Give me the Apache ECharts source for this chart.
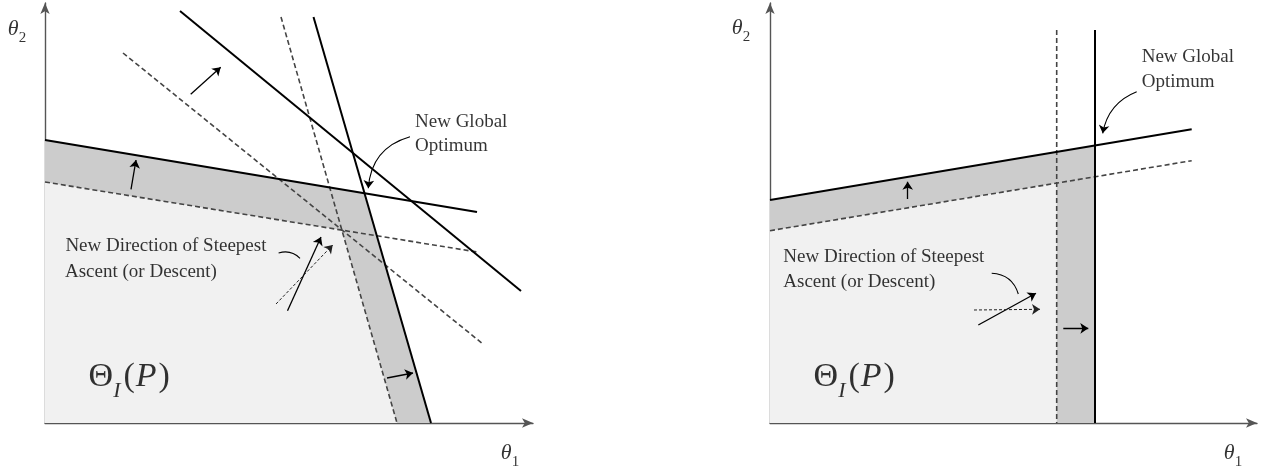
<!DOCTYPE html>
<html lang="en">
<head>
    <meta charset="UTF-8">
    <title>feasible region shift</title>
    <script src="https://cdn.jsdelivr.net/npm/echarts@6/dist/echarts.min.js"></script>
    <style>
        html, body { margin: 0; padding: 0; background: #fff; }
        #chart { width: 1268px; height: 467px; }
    </style>
</head>
<body>
<div id="chart"></div>
<script>
    // ---- left panel (units: theta1 0..488, theta2 0..420) ----
    var leftSolidShallow = [[0, 283], [432, 211]];
    var leftDashShallow = [[0, 241], [432, 171]];
    var leftSolidSteep = [[268.5, 406], [386, 0]];
    var leftDashSteep = [[236, 406], [352, 0]];
    var leftSolidLong = [[135, 412], [476, 132]];
    var leftDashLong = [[78, 370], [438, 79]];
    var leftDarkRegion = [[0, 283], [319.5, 229.7], [386, 0]];
    var leftLightRegion = [[0, 241], [296.9, 192.9], [352, 0]];
    var leftArrows = [
        [[145.7, 328.7], [175.7, 355.7]],
        [[86, 233.7], [91, 263]],
        [[342, 45], [368, 50]],
        [[242.5, 112.3], [276, 186]]
    ];
    var leftDashArrow = [[231, 119], [287.7, 178]];
    var leftOptLeader = [[365, 286.3], [323.3, 234.7]];
    var leftDirLeader = [[233.6, 170], [255, 164.7]];
    var leftTexts = [
        ['New Global', 370, 300.5],
        ['Optimum', 370, 276.5],
        ['New Direction of Steepest', 20.4, 177],
        ['Ascent (or Descent)', 20, 151.3]
    ];
    var leftTheta1 = [465, -33];
    var leftTheta2 = [-28, 391];
    var leftRegionName = [43.6, 42];

    // ---- right panel ----
    var rightSolidRise = [[0, 223], [421.7, 293.7]];
    var rightDashRise = [[0, 192.3], [421.7, 262.3]];
    var rightSolidVert = [[325, 393], [325, 0]];
    var rightDashVert = [[286.7, 393], [286.7, 0]];
    var rightDarkRegion = [[0, 223], [325, 277.5], [325, 0]];
    var rightLightRegion = [[0, 192.3], [286.7, 239.9], [286.7, 0]];
    var rightArrows = [
        [[137.7, 224], [137.7, 241.3]],
        [[293.3, 94.3], [318.3, 94.7]],
        [[208.3, 98], [266, 129.7]]
    ];
    var rightDashArrow = [[204, 113], [270, 113.7]];
    var rightOptLeader = [[366.7, 331.3], [332.7, 289.7]];
    var rightDirLeader = [[221.7, 149.7], [248.3, 129]];
    var rightTexts = [
        ['New Global', 371.7, 366.3],
        ['Optimum', 371.7, 341.3],
        ['New Direction of Steepest', 13.3, 165.7],
        ['Ascent (or Descent)', 13.3, 141.3]
    ];
    var rightTheta1 = [463, -33];
    var rightTheta2 = [-29, 392];
    var rightRegionName = [43.6, 42];

    var serif = 'Liberation Serif';
    var solidStyle = { color: '#000', width: 2, type: 'solid' };
    var dashStyle = { color: '#444', width: 1.6, type: [5, 3] };

    function seg(points, style, idx, z) {
        return {
            type: 'line', xAxisIndex: idx, yAxisIndex: idx, data: points,
            symbol: 'none', silent: true, z: z || 3,
            lineStyle: style
        };
    }

    function area(points, color, idx, z) {
        return {
            type: 'line', xAxisIndex: idx, yAxisIndex: idx, data: points,
            symbol: 'none', silent: true, z: z,
            lineStyle: { width: 0 },
            areaStyle: { color: color, opacity: 1 }
        };
    }

    // arrows and curved leaders through the lines series
    function arrows(list, style, idx, curve, size, endSymbol) {
        return {
            type: 'lines', coordinateSystem: 'cartesian2d',
            xAxisIndex: idx, yAxisIndex: idx, silent: true, z: 5,
            symbol: ['none', endSymbol || 'arrow'],
            symbolSize: size || [5, 8],
            lineStyle: Object.assign({ curveness: curve || 0, opacity: 1 }, style),
            data: list.map(function (a) {
                return { coords: [a[0], a[1]] };
            })
        };
    }

    var mathRich = {
        v: { fontFamily: serif, fontStyle: 'italic', fontSize: 22, color: '#000',
            verticalAlign: 'bottom', padding: [0, 0, 5, 0] },
        s: { fontFamily: serif, fontSize: 15, color: '#000', verticalAlign: 'bottom' }
    };
    var regionRich = {
        a: { fontFamily: serif, fontSize: 34, color: '#000', verticalAlign: 'bottom', padding: [0, 0, 8, 0] },
        b: { fontFamily: serif, fontStyle: 'italic', fontSize: 22, color: '#000', verticalAlign: 'bottom',
            padding: [0, 3, 0, 0] },
        c: { fontFamily: serif, fontStyle: 'italic', fontSize: 34, color: '#000', verticalAlign: 'bottom',
            padding: [0, 2, 8, 1] }
    };

    function texts(list, t1, t2, region, idx) {
        var items = list.map(function (t) {
            return {
                value: [t[1], t[2]], name: t[0],
                label: { show: true, position: 'right', distance: 0, formatter: t[0],
                    fontFamily: serif, fontSize: 19, color: '#000' }
            };
        });
        items.push({
            value: t1, label: { show: true, position: 'inside', formatter: '{v|θ}{s|1}', rich: mathRich }
        });
        items.push({
            value: t2, label: { show: true, position: 'inside', formatter: '{v|θ}{s|2}', rich: mathRich }
        });
        items.push({
            value: region, label: { show: true, position: 'right', distance: 0,
                formatter: '{a|Θ}{b|I}{a|(}{c|P}{a|)}', rich: regionRich }
        });
        return {
            type: 'scatter', xAxisIndex: idx, yAxisIndex: idx, data: items,
            symbolSize: 0, clip: false, silent: true, z: 6
        };
    }

    function axisPair(maxX, grid) {
        var line = {
            show: true, onZero: false,
            symbol: ['none', 'arrow'], symbolSize: [7, 11],
            lineStyle: { color: '#555', width: 1.4 }
        };
        return [
            { type: 'value', gridIndex: grid, min: 0, max: maxX, axisLine: line, axisTick: { show: false },
                axisLabel: { show: false }, splitLine: { show: false } },
            { type: 'value', gridIndex: grid, min: 0, max: 420, axisLine: line, axisTick: { show: false },
                axisLabel: { show: false }, splitLine: { show: false } }
        ];
    }

    var chart = echarts.init(document.getElementById('chart'));
    var lx = axisPair(488, 0), rx = axisPair(487, 1);

    var options = {
        animation: false,
        backgroundColor: '#fff',
        grid: [
            { left: 45, top: 3, width: 488, height: 420 },
            { left: 770, top: 3, width: 487, height: 420 }
        ],
        xAxis: [lx[0], rx[0]],
        yAxis: [lx[1], rx[1]],
        series: [
            area(leftDarkRegion, '#cccccc', 0, 1),
            area(leftLightRegion, '#f1f1f1', 0, 2),
            seg(leftDashShallow, dashStyle, 0),
            seg(leftDashSteep, dashStyle, 0),
            seg(leftDashLong, dashStyle, 0),
            seg(leftSolidShallow, solidStyle, 0, 4),
            seg(leftSolidSteep, solidStyle, 0, 4),
            seg(leftSolidLong, solidStyle, 0, 4),
            arrows(leftArrows, { color: '#000', width: 1.3, type: 'solid' }, 0),
            arrows([leftDashArrow], { color: '#222', width: 1, type: [3, 2] }, 0),
            arrows([leftOptLeader], { color: '#000', width: 1.1, type: 'solid' }, 0, -0.35),
            arrows([leftDirLeader], { color: '#000', width: 1.1, type: 'solid' }, 0, 0.3, 1, 'none'),
            texts(leftTexts, leftTheta1, leftTheta2, leftRegionName, 0),

            area(rightDarkRegion, '#cccccc', 1, 1),
            area(rightLightRegion, '#f1f1f1', 1, 2),
            seg(rightDashRise, dashStyle, 1),
            seg(rightDashVert, dashStyle, 1),
            seg(rightSolidRise, solidStyle, 1, 4),
            seg(rightSolidVert, solidStyle, 1, 4),
            arrows(rightArrows, { color: '#000', width: 1.3, type: 'solid' }, 1),
            arrows([rightDashArrow], { color: '#222', width: 1, type: [3, 2] }, 1),
            arrows([rightOptLeader], { color: '#000', width: 1.1, type: 'solid' }, 1, -0.28),
            arrows([rightDirLeader], { color: '#000', width: 1.1, type: 'solid' }, 1, 0.35, 1, 'none'),
            texts(rightTexts, rightTheta1, rightTheta2, rightRegionName, 1)
        ]
    };

    chart.setOption(options);
</script>
</body>
</html>
